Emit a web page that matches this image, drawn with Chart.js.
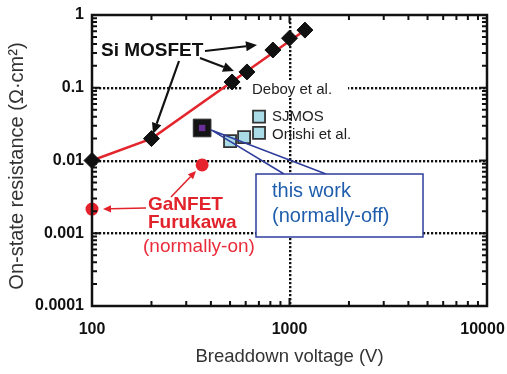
<!DOCTYPE html>
<html><head><meta charset="utf-8">
<script src="https://cdn.jsdelivr.net/npm/chart.js@4.4.0/dist/chart.umd.min.js"></script>
<style>html,body{margin:0;padding:0;background:#fff}#c{display:block}</style>
</head><body>
<canvas id="c" width="507" height="374"></canvas>
<script>
// ---- data ----
const siMosfet = [[100,0.01],[200,0.02],[512,0.12],[609,0.165],[824,0.33],[1000,0.48],[1197,0.62]];
const siLimit = [[100,0.01],[200,0.02],[1220,0.64]];
const thisWork = [[361,0.028]];
const sjmos = [[500,0.0185],[589,0.021],[701,0.024],[701,0.040]];
const ganFet = [[100,0.00215],[361,0.0087]];
const xTicks = [100,1000,10000];
const yTicks = [0.0001,0.001,0.01,0.1,1];
const xGrid = [1000];
const yGrid = [0.001,0.01,0.1];

const pts = a => a.map(p => ({x:p[0], y:p[1]}));
const FONT = '"Liberation Sans", Arial, Helvetica, sans-serif';

function arrow(ctx, x1,y1,x2,y2,color,w,head){
  ctx.save();
  ctx.strokeStyle=color; ctx.fillStyle=color; ctx.lineWidth=w;
  const a=Math.atan2(y2-y1,x2-x1);
  const bx=x2-head*Math.cos(a), by=y2-head*Math.sin(a);
  ctx.beginPath(); ctx.moveTo(x1,y1); ctx.lineTo(bx,by); ctx.stroke();
  ctx.beginPath();
  ctx.moveTo(x2,y2);
  ctx.lineTo(bx+head*0.45*Math.sin(a), by-head*0.45*Math.cos(a));
  ctx.lineTo(bx-head*0.45*Math.sin(a), by+head*0.45*Math.cos(a));
  ctx.closePath(); ctx.fill();
  ctx.restore();
}

const framePlugin = {
  id:'frame',
  beforeDatasetsDraw(chart){
    const {ctx, chartArea:a, scales:{x,y}} = chart;
    ctx.save();
    ctx.fillStyle='#111';
    yGrid.forEach(v=>{
      const py=Math.round(y.getPixelForValue(v));
      for(let px=a.left+3; px<a.right-2; px+=4) ctx.fillRect(px,py-1,2.2,2.4);
    });
    xGrid.forEach(v=>{
      const px=Math.round(x.getPixelForValue(v));
      for(let py=a.top+3; py<a.bottom-2; py+=4) ctx.fillRect(px-1,py,2.4,2.2);
    });
    // gap in the 0.1 gridline behind the Deboy label
    ctx.fillStyle='#fff'; ctx.fillRect(243, 80, 105, 18);
    ctx.restore();
  },
  afterDatasetsDraw(chart){
    const {ctx, chartArea:a, scales:{x,y}} = chart;
    const X=v=>x.getPixelForValue(v), Y=v=>y.getPixelForValue(v);
    ctx.save();
    ctx.strokeStyle='#111'; ctx.lineWidth=2.5;
    ctx.strokeRect(a.left,a.top,a.right-a.left,a.bottom-a.top);
    ctx.lineWidth=2;
    for(let d=100; d<10000; d*=10){
      for(let m=1;m<10;m++){
        const v=d*m; if(v<=100||v>=10000) continue;
        const L = m===1?8:5, px=X(v);
        ctx.beginPath(); ctx.moveTo(px,a.bottom); ctx.lineTo(px,a.bottom-L);
        ctx.moveTo(px,a.top); ctx.lineTo(px,a.top+L); ctx.stroke();
      }
    }
    for(let d=0.0001; d<0.9; d*=10){
      for(let m=1;m<10;m++){
        const v=d*m; if(v<=0.00011||v>=0.99) continue;
        const L = m===1?8:5, py=Y(v);
        ctx.beginPath(); ctx.moveTo(a.left,py); ctx.lineTo(a.left+L,py);
        ctx.moveTo(a.right,py); ctx.lineTo(a.right-L,py); ctx.stroke();
      }
    }
    ctx.font='15px '+FONT; ctx.textBaseline='middle';
    ctx.fillStyle='#222'; ctx.fillText('Deboy et al.', 252, 90);
    ctx.fillText('SJMOS', 272, 117);
    ctx.fillText('Onishi et al.', 272, 135);
    ctx.font='bold 19px '+FONT; ctx.fillStyle='#111';
    ctx.fillText('Si MOSFET', 101, 51);
    arrow(ctx,205,51,257,45,'#111',2.2,11);
    arrow(ctx,200,58,234,71,'#111',2.2,11);
    arrow(ctx,179,61,153,134,'#111',2.2,11);
    ctx.fillStyle='#e2232b';
    ctx.font='bold 19px '+FONT;
    ctx.fillText('GaNFET',148,205);
    ctx.fillText('Furukawa',148,223);
    ctx.font='19px '+FONT; ctx.fillStyle='#ea2b3a';
    ctx.fillText('(normally-on)',143,247);
    arrow(ctx,146,208,103,209,'#e2232b',1.6,8);
    arrow(ctx,171,197,196,171,'#e2232b',1.6,8);
    const sx=X(thisWork[0][0])+9, sy=Y(thisWork[0][1])+2;
    ctx.strokeStyle='#2f3d9c'; ctx.lineWidth=1.5;
    ctx.beginPath(); ctx.moveTo(284,174); ctx.lineTo(sx,sy); ctx.lineTo(326,174); ctx.stroke();
    ctx.fillStyle='#fff'; ctx.fillRect(256,174,167,63);
    ctx.strokeRect(256,174,167,63);
    ctx.fillStyle='#1f5ead'; ctx.font='20px '+FONT;
    ctx.fillText('this work',272,191);
    ctx.fillText('(normally-off)',272,216);
    ctx.restore();
  }
};

new Chart(document.getElementById('c'), {
  type:'scatter',
  data:{datasets:[
    {data:pts(siLimit), showLine:true, borderColor:'#e3262d', borderWidth:2.5, pointRadius:0, order:5, clip:false},
    {data:pts(siMosfet), pointStyle:'rectRot', pointRadius:8, backgroundColor:'#111', borderColor:'#111', borderWidth:1, order:4, clip:false},
    {data:pts(sjmos), pointStyle:'rect', pointRadius:8.5, backgroundColor:'#a9dce7', borderColor:'#333', borderWidth:1.8, order:3, clip:false},
    {data:pts(thisWork), pointStyle:'rect', pointRadius:12.5, backgroundColor:'#141414', borderColor:'#333', borderWidth:1, order:2, clip:false},
    {data:pts(thisWork), pointStyle:'rect', pointRadius:4.5, backgroundColor:'#6a2f96', borderColor:'#6a2f96', borderWidth:0, order:1, clip:false},
    {data:pts(ganFet), pointStyle:'circle', pointRadius:6.5, backgroundColor:'#e5222b', borderColor:'#e5222b', borderWidth:0, order:0, clip:false}
  ]},
  options:{
    responsive:false, animation:false,
    layout:{padding:{top:15,right:20,left:0,bottom:0}},
    plugins:{legend:{display:false}, tooltip:{enabled:false}},
    scales:{
      x:{type:'logarithmic', min:100, max:10000,
        afterFit(s){ s.height=68; s.paddingLeft=0; s.paddingRight=0; },
        grid:{display:false, drawTicks:false}, border:{display:false},
        afterBuildTicks(s){ s.ticks = xTicks.map(v=>({value:v})); },
        ticks:{padding:14, color:'#111', font:{family:FONT, size:16, weight:'bold'}, maxRotation:0, autoSkip:false,
          callback:v=>(v===10000 ? '10000  ' : String(v))},
        title:{display:true, text:'Breaddown voltage (V)', color:'#333', font:{family:FONT,size:18.5}, padding:{top:0,bottom:6}}
      },
      y:{type:'logarithmic', min:0.0001, max:1,
        afterFit(s){ s.width=92; s.paddingTop=0; s.paddingBottom=0; },
        grid:{display:false, drawTicks:false}, border:{display:false},
        afterBuildTicks(s){ s.ticks = yTicks.map(v=>({value:v})); },
        ticks:{padding:8, color:'#111', font:{family:FONT, size:16, weight:'bold'}, autoSkip:false,
          callback:v=>String(v)},
        title:{display:true, text:'On-state resistance (Ω·cm²)  ', color:'#333', font:{family:FONT,size:20}, padding:{top:5,bottom:0}}
      }
    }
  },
  plugins:[framePlugin]
});
</script>
</body></html>
